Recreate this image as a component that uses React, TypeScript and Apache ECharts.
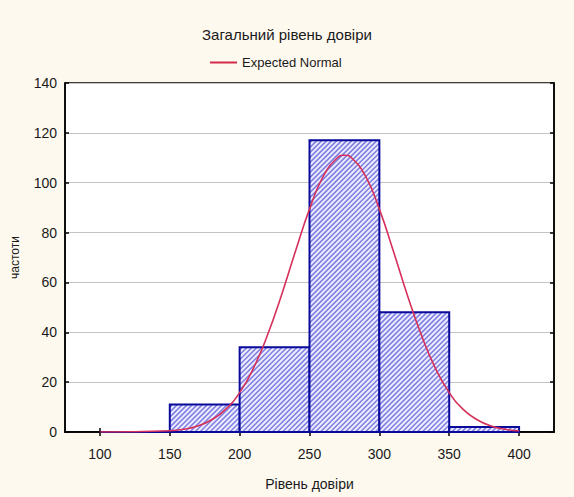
import React, { useEffect, useRef } from "react";
import * as echarts from "echarts";

const titleText = "Загальний рівень довіри";
const legendName = "Expected Normal";
const xName = "Рівень довіри";
const yName = "частоти";

// histogram bins: [start, end]
const binStarts = [100, 150, 200, 250, 300, 350];
const binEnds = [150, 200, 250, 300, 350, 400];
const binCounts = [0, 11, 34, 117, 48, 2];

// expected normal curve
const curveX = [100, 150, 160, 170, 180, 190, 200, 210, 220, 230, 240, 250, 260, 270, 275, 280, 290, 300, 310, 320, 330, 340, 350, 360, 370, 380, 390, 400];
const curveY = [0, 0.5, 1.1, 2.4, 4.9, 9.1, 15.8, 25.7, 39, 55, 72.6, 89.4, 102.7, 110, 111, 110, 102.7, 89.4, 72.6, 55, 39, 25.7, 15.8, 9.1, 4.9, 2.4, 1.1, 0.5];

const xTicks = [100, 150, 200, 250, 300, 350, 400];

const FONT = "Liberation Sans, Arial, sans-serif";

export default function App() {
  const ref = useRef<HTMLDivElement>(null);
  useEffect(() => {
    const chart = echarts.init(ref.current!, null, { renderer: "svg" });
    const histData = binStarts.map((s, i) => [s, binEnds[i], binCounts[i]]);
    const curveData = curveX.map((x, i) => [x, curveY[i]]);
    const gridLeft = 65, gridTop = 83, gridRight = 20, gridBottom = 65;
    const hidden = {
      axisLabel: { show: false },
      splitLine: { show: false },
    };
    chart.setOption({
      animation: false,
      backgroundColor: "#fdf9ef",
      title: {
        text: titleText,
        left: 282,
        textAlign: "center",
        top: 22,
        textStyle: { fontFamily: FONT, fontSize: 15, fontWeight: "normal", color: "#1a1a1a" },
      },
      legend: {
        left: 205,
        top: 51,
        itemWidth: 27,
        itemHeight: 2,
        itemGap: 5,
        data: [{ name: legendName, icon: "rect", itemStyle: { color: "#d42a4a" } }],
        textStyle: { fontFamily: FONT, fontSize: 13, color: "#1a1a1a" },
      },
      grid: {
        left: gridLeft,
        top: gridTop,
        right: gridRight,
        bottom: gridBottom,
        show: true,
        backgroundColor: "#ffffff",
        borderColor: "#000",
        borderWidth: 1.5,
      },
      xAxis: [
        {
          type: "value",
          min: 75,
          max: 425,
          name: xName,
          nameLocation: "middle",
          nameGap: 45,
          nameTextStyle: { fontFamily: FONT, fontSize: 14, color: "#1a1a1a" },
          axisLine: { show: true, lineStyle: { color: "#000", width: 1.5 } },
          axisTick: { show: true, inside: true, length: 4, lineStyle: { color: "#000", width: 1.5 }, customValues: xTicks },
          axisLabel: { fontFamily: FONT, fontSize: 14, color: "#1a1a1a", margin: 15, customValues: xTicks },
          splitLine: { show: false },
        },
        {
          type: "value",
          min: 75,
          max: 425,
          position: "top",
          axisLine: { show: true, lineStyle: { color: "#000", width: 1.5 } },
          axisTick: { show: true, inside: true, length: 4, lineStyle: { color: "#000", width: 1.5 }, customValues: xTicks },
          ...hidden,
        },
      ],
      yAxis: [
        {
          type: "value",
          min: 0,
          max: 140,
          interval: 20,
          name: yName,
          nameLocation: "middle",
          nameGap: 44,
          nameTextStyle: { fontFamily: FONT, fontSize: 12, color: "#1a1a1a" },
          axisLine: { show: true, lineStyle: { color: "#000", width: 1.5 } },
          axisTick: { show: true, inside: true, length: 4, lineStyle: { color: "#000", width: 1.5 } },
          axisLabel: { fontFamily: FONT, fontSize: 14, color: "#1a1a1a", margin: 8 },
          splitLine: { show: true, lineStyle: { color: "#c4c4c4", width: 1.2 } },
        },
        {
          type: "value",
          min: 0,
          max: 140,
          interval: 20,
          position: "right",
          axisLine: { show: true, lineStyle: { color: "#000", width: 1.5 } },
          axisTick: { show: true, inside: true, length: 4, lineStyle: { color: "#000", width: 1.5 } },
          ...hidden,
        },
      ],
      series: [
        {
          type: "custom",
          name: "hist",
          xAxisIndex: 0,
          yAxisIndex: 0,
          data: histData,
          encode: { x: [0, 1], y: 2 },
          renderItem: (params: any, api: any) => {
            const p0 = api.coord([api.value(0), api.value(2)]);
            const p1 = api.coord([api.value(1), 0]);
            const x0 = p0[0], y0 = p0[1], x1 = p1[0], y1 = p1[1];
            const w = x1 - x0, h = y1 - y0;
            const children: any[] = [];
            if (h > 0.5) {
              children.push({
                type: "rect",
                shape: { x: x0, y: y0, width: w, height: h },
                style: { fill: "#eeeeff", stroke: "none" },
              });
              const s = 5;
              for (let c = x0 + y0 + s / 2; c < x1 + y1; c += s) {
                const xa = Math.max(x0, c - y1);
                const xb = Math.min(x1, c - y0);
                if (xb <= xa) continue;
                children.push({
                  type: "line",
                  shape: { x1: xa, y1: c - xa, x2: xb, y2: c - xb },
                  style: { stroke: "#8080e2", lineWidth: 1.6 },
                });
              }
            }
            children.push({
              type: "rect",
              shape: { x: x0, y: y0, width: w, height: Math.max(h, 0) },
              style: { fill: "none", stroke: "#0a0a9a", lineWidth: 2 },
            });
            return { type: "group", children };
          },
          z: 2,
        },
        {
          type: "line",
          name: legendName,
          xAxisIndex: 0,
          yAxisIndex: 0,
          data: curveData,
          smooth: true,
          showSymbol: false,
          symbol: "none",
          lineStyle: { color: "#d6305a", width: 1.6 },
          itemStyle: { color: "#d6305a" },
          z: 3,
        },
      ],
    });
    return () => chart.dispose();
  }, []);
  return (
    <div
      ref={ref}
      style={{ position: "fixed", left: 0, top: 0, width: 574, height: 497 }}
    />
  );
}
